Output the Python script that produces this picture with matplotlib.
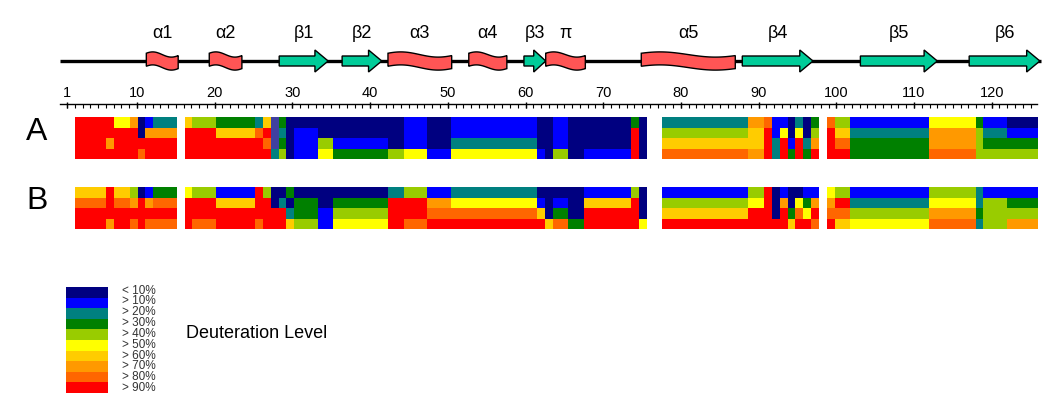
import numpy as np
import matplotlib
matplotlib.use("Agg")
import matplotlib.pyplot as plt
from matplotlib.colors import ListedColormap, BoundaryNorm
from matplotlib.patches import Polygon, Rectangle

plt.rcParams['font.family'] = ['Liberation Sans', 'DejaVu Sans']

# ---------------- data ----------------
# secondary structure elements (residue ranges)
ss_label = ['α1', 'α2', 'β1', 'β2', 'α3', 'α4', 'β3', 'π', 'α5', 'β4', 'β5', 'β6']
ss_kind = ['H', 'H', 'E', 'E', 'H', 'H', 'E', 'H', 'H', 'E', 'E', 'E']
ss_start = [11.2, 19.3, 28.3, 36.4, 42.3, 52.7, 59.8, 62.6, 74.9, 87.9, 103.1, 117.1]
ss_end = [15.3, 23.5, 34.6, 41.5, 50.5, 57.6, 62.6, 67.7, 87.0, 97.0, 113.0, 126.2]

seq_start, seq_end = 0.1, 125.8
ruler_labels = [1, 10, 20, 30, 40, 50, 60, 70, 80, 90, 100, 110, 120]

level_labels = ['< 10%', '> 10%', '> 20%', '> 30%', '> 40%',
                '> 50%', '> 60%', '> 70%', '> 80%', '> 90%']
level_colors = ['#000080', '#0000FF', '#008080', '#008000', '#99CC00',
                '#FFFF00', '#FFCC00', '#FF9900', '#FF6600', '#FF0000']
mixed_color = '#4040A0'   # code S

# heatmap span on the residue axis (123 columns)
heat_span = (2.0, 126.0)

# run-length rows: "level:count", '.' = no coverage, 'S' = mixed
A_rows = [
    "9:5 5:2 7 0 1 2:3 . 6 4:3 3:5 2 6 S 3 0:15 1:3 0:3 1:11 0:2 1:2 0:8 3 0 .:2 "
    "2:11 7:2 8 1:2 0 2 0 3 . 8 4:2 1:10 5:6 3 1:3 0:4",
    "9:8 0 7:4 . 9:4 6:5 8 9 S 2 0 1:3 0:11 1:3 0:3 1:11 0:2 1:2 0:8 9 0 .:2 "
    "4:11 6:2 9 1 5 0 5 0 4 . 9 6:2 2:10 7:6 4 2:3 1:4",
    "9:4 7 9:8 . 9:10 8 S 3 0 1:3 4:2 1:7 0:2 1:3 0:3 2:11 0:2 1:2 0:8 9 0 .:2 "
    "6:13 9 2 9 1 9 2 7 . 9 8:2 3:10 7:6 4 3:7",
    "9:8 8 9:4 . 9:11 2 4 0 1:3 5:2 3:7 4:2 5:3 1:3 5:11 1 0 4:2 0:2 1:6 9 0 .:2 "
    "8:11 7:2 9 2 9 3 9 3 9 . 9:3 3:10 8:6 4:8",
]
B_rows = [
    "6:4 9 6:2 4 0 1 3:3 . 5 4:3 1:5 9 4 0:2 3 0:12 2:2 4:3 1:3 2:11 0:6 1:6 4 0 .:2 "
    "1:11 4:2 9 0 1 0:2 1:2 . 5 4:2 1:10 4:6 2 1:7",
    "8:4 9 8:2 7 9 7 8:3 . 9:4 6:5 9:2 0 2 0 3:3 0:2 3:7 9:5 7:3 5:11 1 0 1:2 0:2 6:6 9 0 .:2 "
    "4:11 5:2 9 0 7 0 5 3 7 . 7 9:2 2:10 5:6 2 4:3 3:4",
    "9:13 . 9:13 2 3:3 1:2 4:7 9:5 8:14 6 0 3:2 0:2 9:7 0 .:2 "
    "6:11 9:3 0 9 3 8 5 9 . 8:3 4:10 7:6 3 4:7",
    "9:4 7 9:2 8 9 8:4 . 9 8:3 9:5 8 9:3 6 4:3 1:2 5:7 9:2 8:3 9:15 6 8:2 3:2 9:7 5 .:2 "
    "9:16 6 9:2 8 . 9 6:2 5:10 8:6 2 4:3 7:4",
]


def decode(row):
    vals = []
    for tok in row.split():
        code, _, n = tok.partition(':')
        n = int(n) if n else 1
        if code == '.':
            v = np.nan
        elif code == 'S':
            v = 10
        else:
            v = int(code)
        vals += [v] * n
    return vals


A = np.array([decode(r) for r in A_rows], dtype=float)
B = np.array([decode(r) for r in B_rows], dtype=float)
ncol = A.shape[1]

# ---------------- figure ----------------
W, H = 1050, 403
fig = plt.figure(figsize=(W / 100, H / 100), dpi=100)

# residue axis: residue 10 at px 137, 7.77 px per residue
px10, ppr = 137.0, 7.77
ax = fig.add_axes([0, 0, 1, 1])
ax.set_xlim(10 - px10 / ppr, 10 + (W - px10) / ppr)
ax.set_ylim(H, 0)
ax.axis('off')

# backbone
yb = 61
ax.plot([seq_start, seq_end + 0.5], [yb, yb], color='black', lw=2.4,
        solid_capstyle='butt', zorder=1)

helix_color = '#FF5555'
strand_color = '#00CC99'
for lab, kind, s, e in zip(ss_label, ss_kind, ss_start, ss_end):
    if kind == 'H':
        t = np.linspace(0, 1, 80)
        xs = s + (e - s) * t
        yc = yb - 2.6 * np.sin(2 * np.pi * (t * 0.85 + 0.08))
        top = yc - 6.5
        bot = yc + 6.5
        pts = np.column_stack([np.r_[xs, xs[::-1]], np.r_[top, bot[::-1]]])
        ax.add_patch(Polygon(pts, closed=True, fc=helix_color, ec='black',
                             lw=1.0, zorder=3))
    else:
        hl = min(1.7, (e - s) * 0.55)
        pts = [(s, yb - 5), (e - hl, yb - 5), (e - hl, yb - 11), (e, yb),
               (e - hl, yb + 11), (e - hl, yb + 5), (s, yb + 5)]
        ax.add_patch(Polygon(pts, closed=True, fc=strand_color, ec='black',
                             lw=1.0, zorder=3, joinstyle='miter'))
    ax.text((s + e) / 2, 33, lab, ha='center', va='center', fontsize=13,
            color='black')

# ruler
yr = 104
ax.plot([seq_start, seq_end], [yr, yr], color='black', lw=1.0)
minor = np.arange(1, 126)
ax.vlines(minor, yr, yr + 3.5, color='black', lw=0.8)
ax.vlines(ruler_labels, yr - 2.5, yr + 4, color='black', lw=1.0)
for r in ruler_labels:
    ax.text(r, 93, str(r), ha='center', va='center', fontsize=10.5)

# heatmaps
cmap = ListedColormap(level_colors + [mixed_color])
cmap.set_bad((1, 1, 1, 0))
norm = BoundaryNorm(np.arange(-0.5, 11.5, 1), cmap.N)
xe = np.linspace(heat_span[0], heat_span[1], ncol + 1)
for M, (y0, y1) in [(A, (117.3, 159.2)), (B, (187.3, 229.2))]:
    ye = np.linspace(y0, y1, M.shape[0] + 1)
    ax.pcolormesh(xe, ye, np.ma.masked_invalid(M), cmap=cmap, norm=norm,
                  shading='flat', antialiased=False, edgecolors='none',
                  zorder=2)

# overlay in pixel coordinates for labels and legend
ax2 = fig.add_axes([0, 0, 1, 1])
ax2.set_xlim(0, W)
ax2.set_ylim(H, 0)
ax2.axis('off')
ax2.patch.set_alpha(0)

ax2.text(37, 132, 'A', ha='center', va='center', fontsize=23)
ax2.text(37, 201, 'B', ha='center', va='center', fontsize=23)

cell_h = 10.6
for i, (c, lab) in enumerate(zip(level_colors, level_labels)):
    ax2.add_patch(Rectangle((66, 287 + i * cell_h), 42, cell_h, fc=c,
                            ec='none'))
    ax2.text(122, 290.5 + i * 10.85, lab, ha='left', va='center',
             fontsize=8.5, color='#333333')
ax2.text(186, 333, 'Deuteration Level', ha='left', va='center', fontsize=13)

fig.savefig('out.png', dpi=100)
